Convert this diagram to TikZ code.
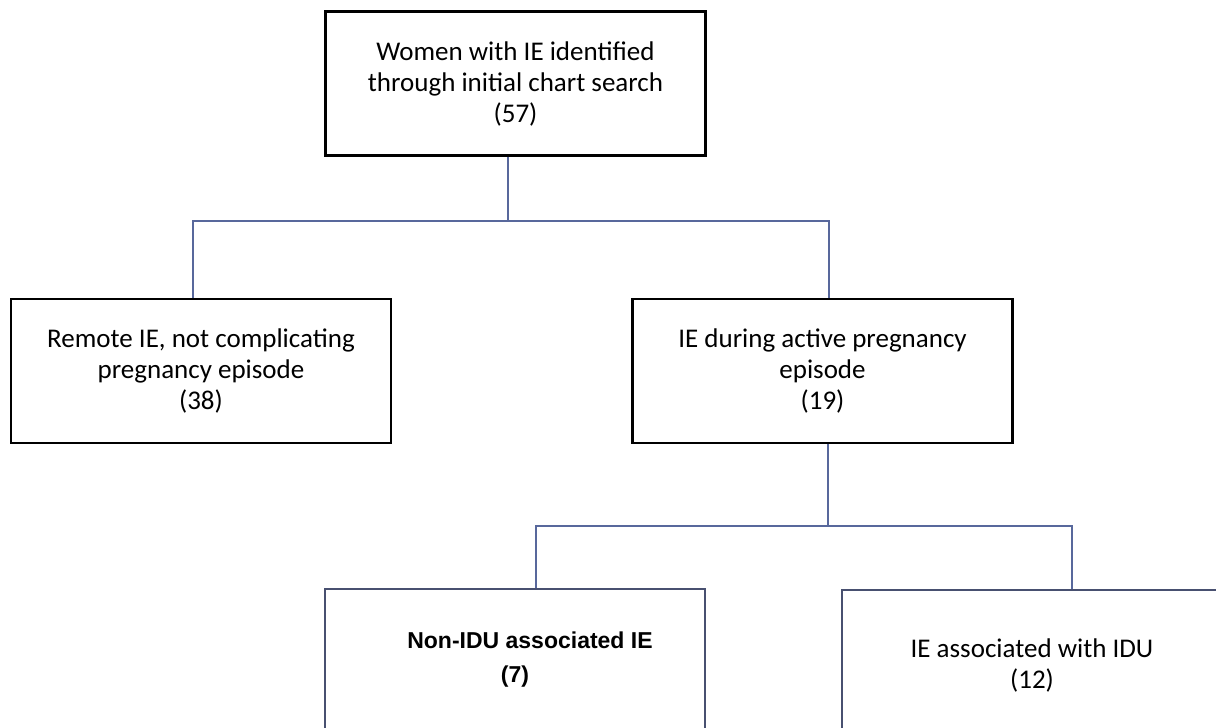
\documentclass[tikz,border=0pt]{standalone}
\usepackage{fontspec}
\setmainfont{Carlito}
\newfontfamily\arialfont{Liberation Sans}
\usepackage{tikz}
\usetikzlibrary{positioning}

\definecolor{linkblue}{RGB}{88,104,156}
\definecolor{boxgray}{RGB}{72,80,112}

\tikzset{
    box/.style={draw=black,line width=1.35pt,align=center,inner sep=0pt,
        minimum width=190pt,minimum height=72pt,
        font=\fontsize{13.5pt}{15.5pt}\selectfont,
        execute at begin node=\rule{0pt}{14pt}},
    lowbox/.style={box,draw=boxgray,minimum height=71pt,
        execute at begin node={}},
    link/.style={draw=linkblue,line width=1.1pt}
}

\begin{document}
\begin{tikzpicture}[x=0.5pt,y=-0.5pt]
        \clip (0,0) rectangle (1216,728);

        % Boxes
        \node [box] (search) at (515.5,83.5)
            {Women with IE identified\\through initial chart search\\(57)};
        \node [box] (remote) at (201,371)
            {Remote IE, not complicating\\pregnancy episode\\(38)};
        \node [box] (active) at (822.5,371)
            {IE during active pregnancy\\episode\\(19)};
        \node [lowbox,font=\arialfont\bfseries\fontsize{11.5pt}{17pt}\selectfont]
            (nonidu) at (515,660)
            {\hspace*{15pt}Non-IDU associated IE\\(7)};
        \node [lowbox,minimum height=75pt] (idu) at (1032,665)
            {IE associated with IDU\\(12)};

        % Forks
        \coordinate (fork1) at (508,221);
        \coordinate (fork2) at (828,526);

        % Connectors, first level
        \draw [link] ([xshift=-3.75pt]search.south) -- (fork1);
        \draw [link] ([xshift=-4pt]remote.north) |- (fork1)
            -| ([xshift=3.25pt]active.north);

        % Connectors, second level
        \draw [link] ([xshift=2.75pt]active.south) -- (fork2);
        \draw [link] ([xshift=10.5pt]nonidu.north) |- (fork2)
            -| ([xshift=20pt]idu.north);
\end{tikzpicture}
\end{document}
